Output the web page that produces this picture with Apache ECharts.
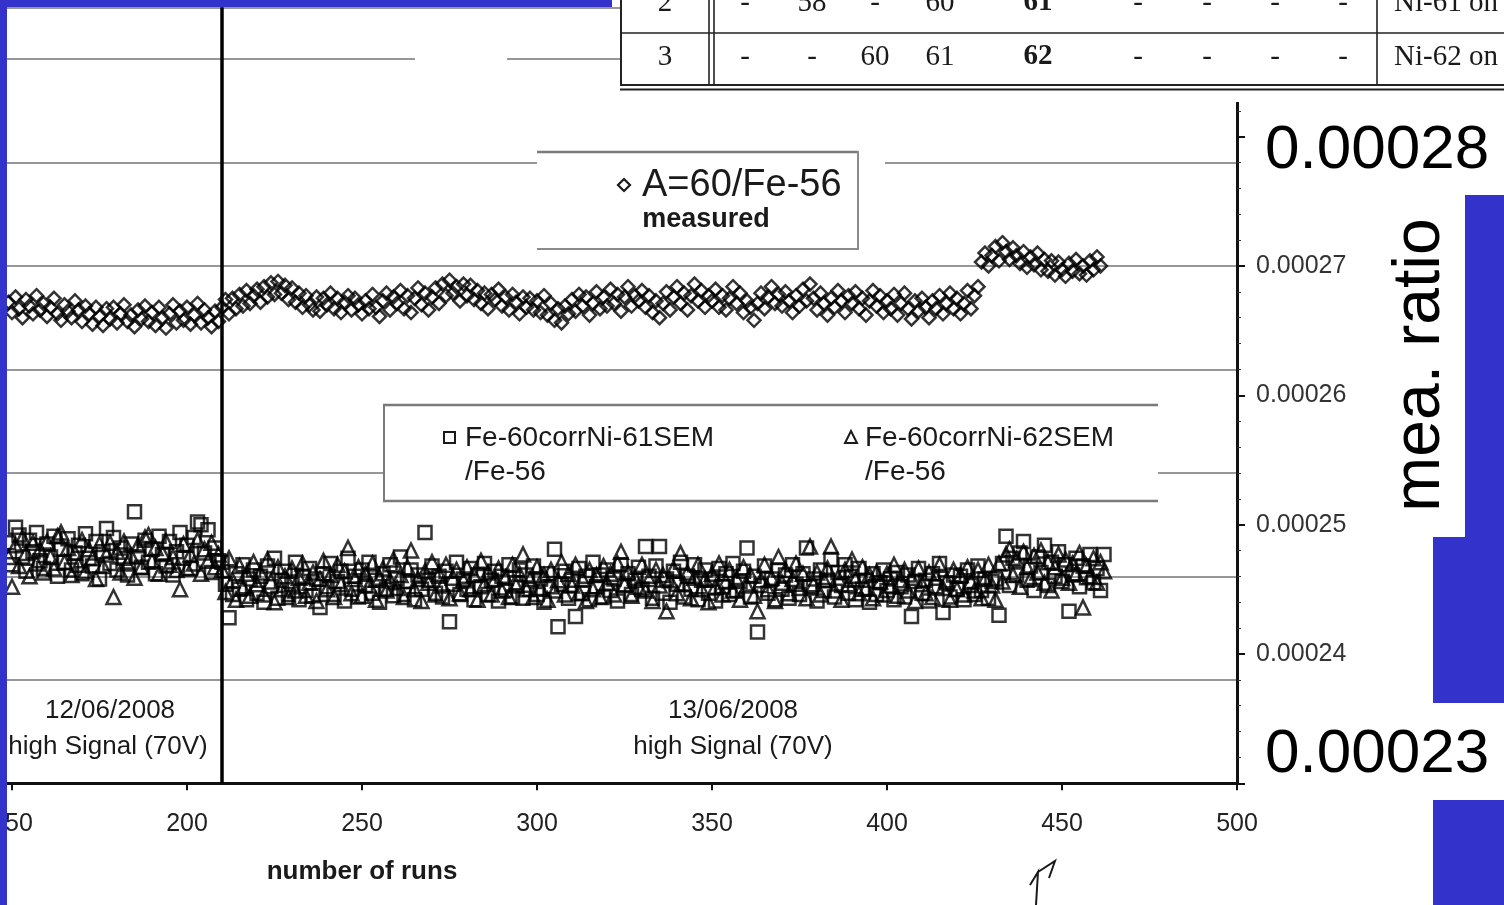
<!DOCTYPE html>
<html>
<head>
<meta charset="utf-8">
<script src="https://cdn.jsdelivr.net/npm/echarts@6/dist/echarts.min.js"></script>
<style>html,body{margin:0;padding:0;background:#fff;}#chart{width:1504px;height:905px;}</style>
</head>
<body>
<div id="chart"></div>
<script>
// ---------------- DATA ----------------
const firstRun = 149;          // first run number shown
const dividerRun = 210;        // change of day (12/06 -> 13/06)

// A=60/Fe-56 measured (runs 149..461)
const ratioA60 = [
2.672e-4,2.664e-4,2.676e-4,2.667e-4,2.660e-4,2.674e-4,2.669e-4,2.663e-4,2.677e-4,2.666e-4,
2.671e-4,2.661e-4,2.668e-4,2.675e-4,2.663e-4,2.658e-4,2.670e-4,2.665e-4,2.660e-4,2.673e-4,
2.666e-4,2.657e-4,2.669e-4,2.663e-4,2.655e-4,2.668e-4,2.661e-4,2.654e-4,2.667e-4,2.659e-4,
2.668e-4,2.656e-4,2.663e-4,2.670e-4,2.657e-4,2.662e-4,2.653e-4,2.666e-4,2.659e-4,2.669e-4,
2.657e-4,2.664e-4,2.654e-4,2.668e-4,2.660e-4,2.652e-4,2.663e-4,2.670e-4,2.656e-4,2.665e-4,
2.658e-4,2.668e-4,2.655e-4,2.662e-4,2.671e-4,2.656e-4,2.666e-4,2.660e-4,2.653e-4,2.665e-4,
2.657e-4,
2.668e-4,2.674e-4,2.663e-4,2.675e-4,2.667e-4,2.678e-4,2.669e-4,2.681e-4,2.671e-4,2.677e-4,
2.682e-4,2.672e-4,2.684e-4,2.676e-4,2.687e-4,2.678e-4,2.688e-4,2.679e-4,2.685e-4,2.674e-4,
2.683e-4,2.672e-4,2.679e-4,2.668e-4,2.677e-4,2.670e-4,2.666e-4,2.676e-4,2.665e-4,2.675e-4,
2.670e-4,2.679e-4,2.667e-4,2.675e-4,2.664e-4,2.672e-4,2.677e-4,2.666e-4,2.675e-4,2.670e-4,
2.663e-4,2.673e-4,2.667e-4,2.678e-4,2.668e-4,2.661e-4,2.673e-4,2.679e-4,2.666e-4,2.676e-4,
2.671e-4,2.681e-4,2.667e-4,2.677e-4,2.664e-4,2.675e-4,2.683e-4,2.670e-4,2.679e-4,2.666e-4,
2.676e-4,2.683e-4,2.671e-4,2.686e-4,2.677e-4,2.689e-4,2.679e-4,2.684e-4,2.673e-4,2.686e-4,
2.677e-4,2.685e-4,2.674e-4,2.681e-4,2.671e-4,2.679e-4,2.667e-4,2.678e-4,2.674e-4,2.682e-4,
2.669e-4,2.676e-4,2.666e-4,2.678e-4,2.672e-4,2.663e-4,2.676e-4,2.668e-4,2.675e-4,2.666e-4,
2.673e-4,2.664e-4,2.677e-4,2.662e-4,2.671e-4,2.658e-4,2.667e-4,2.656e-4,2.669e-4,2.663e-4,
2.674e-4,2.665e-4,2.678e-4,2.669e-4,2.676e-4,2.662e-4,2.671e-4,2.680e-4,2.667e-4,2.676e-4,
2.669e-4,2.682e-4,2.671e-4,2.678e-4,2.665e-4,2.676e-4,2.684e-4,2.669e-4,2.677e-4,2.673e-4,
2.681e-4,2.668e-4,2.677e-4,2.664e-4,2.673e-4,2.660e-4,2.671e-4,2.680e-4,2.666e-4,2.676e-4,
2.684e-4,2.671e-4,2.679e-4,2.666e-4,2.677e-4,2.686e-4,2.673e-4,2.681e-4,2.668e-4,2.677e-4,
2.673e-4,2.682e-4,2.668e-4,2.677e-4,2.666e-4,2.675e-4,2.684e-4,2.671e-4,2.679e-4,2.664e-4,
2.673e-4,2.668e-4,2.658e-4,2.671e-4,2.679e-4,2.667e-4,2.676e-4,2.684e-4,2.671e-4,2.678e-4,
2.669e-4,2.680e-4,2.673e-4,2.664e-4,2.677e-4,2.669e-4,2.682e-4,2.673e-4,2.686e-4,2.675e-4,
2.666e-4,2.679e-4,2.671e-4,2.662e-4,2.675e-4,2.668e-4,2.681e-4,2.673e-4,2.664e-4,2.677e-4,
2.671e-4,2.680e-4,2.667e-4,2.675e-4,2.662e-4,2.673e-4,2.681e-4,2.669e-4,2.677e-4,2.664e-4,
2.673e-4,2.667e-4,2.678e-4,2.662e-4,2.671e-4,2.679e-4,2.667e-4,2.659e-4,2.673e-4,2.665e-4,
2.675e-4,2.668e-4,2.660e-4,2.673e-4,2.667e-4,2.677e-4,2.663e-4,2.671e-4,2.679e-4,2.667e-4,
2.675e-4,2.663e-4,2.671e-4,2.681e-4,2.667e-4,2.677e-4,2.684e-4,
2.703e-4,2.710e-4,2.700e-4,2.708e-4,2.715e-4,2.704e-4,2.718e-4,2.711e-4,2.705e-4,2.714e-4,
2.708e-4,2.702e-4,2.711e-4,2.699e-4,2.707e-4,2.701e-4,2.710e-4,2.697e-4,2.705e-4,2.696e-4,
2.704e-4,2.693e-4,2.703e-4,2.697e-4,2.692e-4,2.702e-4,2.696e-4,2.705e-4,2.694e-4,2.700e-4,
2.693e-4,2.704e-4,2.697e-4,2.707e-4,2.700e-4
];

// Fe-60corrNi-61SEM/Fe-56 (runs 149..462)
const ratioNi61 = [
2.486e-4,2.469e-4,2.498e-4,2.492e-4,2.475e-4,2.464e-4,2.488e-4,2.479e-4,2.494e-4,2.472e-4,
2.466e-4,2.485e-4,2.475e-4,2.491e-4,2.460e-4,2.481e-4,2.471e-4,2.489e-4,2.465e-4,2.478e-4,
2.484e-4,2.462e-4,2.493e-4,2.474e-4,2.468e-4,2.487e-4,2.458e-4,2.479e-4,2.497e-4,2.470e-4,
2.490e-4,2.465e-4,2.482e-4,2.474e-4,2.461e-4,2.485e-4,2.510e-4,2.475e-4,2.467e-4,2.488e-4,
2.471e-4,2.481e-4,2.462e-4,2.491e-4,2.477e-4,2.468e-4,2.487e-4,2.461e-4,2.479e-4,2.494e-4,
2.474e-4,2.484e-4,2.466e-4,2.490e-4,2.502e-4,2.500e-4,2.478e-4,2.496e-4,2.463e-4,2.482e-4,
2.472e-4,
2.471e-4,2.454e-4,2.428e-4,2.446e-4,2.462e-4,2.450e-4,2.469e-4,2.442e-4,2.458e-4,2.465e-4,
2.447e-4,2.460e-4,2.440e-4,2.468e-4,2.452e-4,2.474e-4,2.443e-4,2.457e-4,2.464e-4,2.446e-4,
2.454e-4,2.471e-4,2.442e-4,2.460e-4,2.449e-4,2.466e-4,2.445e-4,2.458e-4,2.436e-4,2.462e-4,
2.452e-4,2.470e-4,2.446e-4,2.456e-4,2.464e-4,2.441e-4,2.474e-4,2.450e-4,2.460e-4,2.444e-4,
2.465e-4,2.453e-4,2.471e-4,2.447e-4,2.457e-4,2.440e-4,2.462e-4,2.450e-4,2.469e-4,2.445e-4,
2.458e-4,2.475e-4,2.446e-4,2.456e-4,2.465e-4,2.442e-4,2.461e-4,2.450e-4,2.494e-4,2.457e-4,
2.468e-4,2.447e-4,2.460e-4,2.444e-4,2.464e-4,2.425e-4,2.454e-4,2.471e-4,2.446e-4,2.458e-4,
2.450e-4,2.466e-4,2.442e-4,2.461e-4,2.452e-4,2.470e-4,2.446e-4,2.457e-4,2.464e-4,2.441e-4,
2.460e-4,2.449e-4,2.469e-4,2.444e-4,2.455e-4,2.465e-4,2.443e-4,2.461e-4,2.450e-4,2.468e-4,
2.446e-4,2.458e-4,2.440e-4,2.462e-4,2.452e-4,2.481e-4,2.421e-4,2.454e-4,2.464e-4,2.443e-4,
2.457e-4,2.429e-4,2.466e-4,2.447e-4,2.460e-4,2.442e-4,2.471e-4,2.452e-4,2.461e-4,2.444e-4,
2.465e-4,2.449e-4,2.458e-4,2.441e-4,2.469e-4,2.453e-4,2.462e-4,2.446e-4,2.457e-4,2.467e-4,
2.450e-4,2.483e-4,2.460e-4,2.443e-4,2.468e-4,2.483e-4,2.447e-4,2.458e-4,2.440e-4,2.464e-4,
2.454e-4,2.471e-4,2.444e-4,2.460e-4,2.450e-4,2.469e-4,2.442e-4,2.457e-4,2.465e-4,2.447e-4,
2.458e-4,2.441e-4,2.466e-4,2.452e-4,2.462e-4,2.446e-4,2.470e-4,2.449e-4,2.456e-4,2.464e-4,
2.482e-4,2.444e-4,2.460e-4,2.417e-4,2.453e-4,2.468e-4,2.447e-4,2.458e-4,2.442e-4,2.465e-4,
2.450e-4,2.461e-4,2.443e-4,2.469e-4,2.454e-4,2.446e-4,2.462e-4,2.482e-4,2.452e-4,2.458e-4,
2.441e-4,2.465e-4,2.449e-4,2.457e-4,2.473e-4,2.444e-4,2.463e-4,2.453e-4,2.469e-4,2.447e-4,
2.460e-4,2.442e-4,2.466e-4,2.450e-4,2.457e-4,2.440e-4,2.462e-4,2.446e-4,2.455e-4,2.465e-4,
2.449e-4,2.458e-4,2.442e-4,2.463e-4,2.452e-4,2.444e-4,2.461e-4,2.429e-4,2.456e-4,2.466e-4,
2.447e-4,2.457e-4,2.441e-4,2.462e-4,2.452e-4,2.470e-4,2.432e-4,2.455e-4,2.444e-4,2.461e-4,
2.450e-4,2.460e-4,2.442e-4,2.465e-4,2.453e-4,2.446e-4,2.468e-4,2.449e-4,2.458e-4,2.443e-4,
2.456e-4,
2.458e-4,2.430e-4,2.470e-4,2.491e-4,2.453e-4,2.474e-4,2.461e-4,2.478e-4,2.487e-4,2.457e-4,
2.468e-4,2.449e-4,2.475e-4,2.463e-4,2.484e-4,2.453e-4,2.471e-4,2.460e-4,2.479e-4,2.456e-4,
2.469e-4,2.433e-4,2.461e-4,2.474e-4,2.452e-4,2.468e-4,2.459e-4,2.477e-4,2.455e-4,2.466e-4,
2.449e-4,2.477e-4
];

// Fe-60corrNi-62SEM/Fe-56 (runs 149..462)
const ratioNi62 = [
2.475e-4,2.452e-4,2.484e-4,2.468e-4,2.490e-4,2.478e-4,2.460e-4,2.486e-4,2.470e-4,2.481e-4,
2.463e-4,2.487e-4,2.475e-4,2.466e-4,2.491e-4,2.494e-4,2.471e-4,2.482e-4,2.461e-4,2.478e-4,
2.469e-4,2.488e-4,2.464e-4,2.481e-4,2.474e-4,2.458e-4,2.485e-4,2.468e-4,2.477e-4,2.486e-4,
2.444e-4,2.479e-4,2.463e-4,2.487e-4,2.470e-4,2.476e-4,2.459e-4,2.484e-4,2.467e-4,2.490e-4,
2.492e-4,2.472e-4,2.482e-4,2.462e-4,2.478e-4,2.487e-4,2.469e-4,2.475e-4,2.465e-4,2.450e-4,
2.485e-4,2.466e-4,2.477e-4,2.470e-4,2.488e-4,2.462e-4,2.481e-4,2.472e-4,2.486e-4,2.467e-4,
2.477e-4,
2.465e-4,2.448e-4,2.474e-4,2.457e-4,2.442e-4,2.468e-4,2.451e-4,2.462e-4,2.445e-4,2.471e-4,
2.454e-4,2.463e-4,2.446e-4,2.473e-4,2.456e-4,2.440e-4,2.467e-4,2.450e-4,2.460e-4,2.444e-4,
2.466e-4,2.449e-4,2.459e-4,2.470e-4,2.445e-4,2.455e-4,2.463e-4,2.441e-4,2.458e-4,2.472e-4,
2.450e-4,2.461e-4,2.444e-4,2.469e-4,2.454e-4,2.464e-4,2.482e-4,2.447e-4,2.458e-4,2.467e-4,
2.445e-4,2.462e-4,2.453e-4,2.470e-4,2.442e-4,2.459e-4,2.466e-4,2.449e-4,2.457e-4,2.473e-4,
2.451e-4,2.461e-4,2.444e-4,2.467e-4,2.480e-4,2.450e-4,2.458e-4,2.441e-4,2.464e-4,2.455e-4,
2.471e-4,2.446e-4,2.462e-4,2.453e-4,2.469e-4,2.443e-4,2.459e-4,2.465e-4,2.447e-4,2.457e-4,
2.467e-4,2.450e-4,2.461e-4,2.442e-4,2.472e-4,2.454e-4,2.463e-4,2.446e-4,2.458e-4,2.466e-4,
2.449e-4,2.459e-4,2.444e-4,2.469e-4,2.453e-4,2.462e-4,2.477e-4,2.450e-4,2.458e-4,2.444e-4,
2.467e-4,2.451e-4,2.461e-4,2.442e-4,2.465e-4,2.449e-4,2.457e-4,2.471e-4,2.446e-4,2.462e-4,
2.453e-4,2.469e-4,2.447e-4,2.458e-4,2.441e-4,2.465e-4,2.450e-4,2.461e-4,2.444e-4,2.468e-4,
2.455e-4,2.462e-4,2.446e-4,2.470e-4,2.479e-4,2.454e-4,2.463e-4,2.445e-4,2.459e-4,2.452e-4,
2.469e-4,2.449e-4,2.458e-4,2.441e-4,2.465e-4,2.453e-4,2.461e-4,2.433e-4,2.457e-4,2.466e-4,
2.447e-4,2.478e-4,2.454e-4,2.463e-4,2.443e-4,2.459e-4,2.469e-4,2.450e-4,2.458e-4,2.440e-4,
2.462e-4,2.452e-4,2.470e-4,2.446e-4,2.456e-4,2.465e-4,2.449e-4,2.458e-4,2.442e-4,2.467e-4,
2.453e-4,2.461e-4,2.445e-4,2.433e-4,2.457e-4,2.469e-4,2.450e-4,2.459e-4,2.441e-4,2.475e-4,
2.455e-4,2.465e-4,2.447e-4,2.458e-4,2.470e-4,2.451e-4,2.462e-4,2.443e-4,2.483e-4,2.454e-4,
2.463e-4,2.446e-4,2.457e-4,2.466e-4,2.483e-4,2.449e-4,2.459e-4,2.442e-4,2.465e-4,2.454e-4,
2.473e-4,2.458e-4,2.447e-4,2.467e-4,2.451e-4,2.461e-4,2.443e-4,2.463e-4,2.456e-4,2.446e-4,
2.462e-4,2.453e-4,2.469e-4,2.445e-4,2.457e-4,2.465e-4,2.449e-4,2.459e-4,2.441e-4,2.466e-4,
2.454e-4,2.447e-4,2.463e-4,2.444e-4,2.459e-4,2.469e-4,2.451e-4,2.457e-4,2.442e-4,2.465e-4,
2.450e-4,2.461e-4,2.446e-4,2.467e-4,2.456e-4,2.449e-4,2.465e-4,2.443e-4,2.458e-4,2.469e-4,
2.453e-4,
2.442e-4,2.470e-4,2.456e-4,2.477e-4,2.481e-4,2.461e-4,2.473e-4,2.452e-4,2.479e-4,2.467e-4,
2.458e-4,2.476e-4,2.463e-4,2.480e-4,2.455e-4,2.471e-4,2.449e-4,2.467e-4,2.477e-4,2.459e-4,
2.473e-4,2.455e-4,2.470e-4,2.462e-4,2.478e-4,2.436e-4,2.468e-4,2.460e-4,2.474e-4,2.455e-4,
2.471e-4,2.464e-4
];

const seriesNames = ['A=60/Fe-56 measured', 'Fe-60corrNi-61SEM/Fe-56', 'Fe-60corrNi-62SEM/Fe-56'];
const xAxisTitle = 'number of runs';
const yAxisTitle = 'mea. ratio';
const bigYLabels = ['0.00028', '0.00023'];
const dayNotes = [['12/06/2008', 'high Signal (70V)'], ['13/06/2008', 'high Signal (70V)']];
const tableRows = [
  ['2', '-', '58', '-', '60', '61', '-', '-', '-', '-', 'Ni-61 on'],
  ['3', '-', '-', '60', '61', '62', '-', '-', '-', '-', 'Ni-62 on']
];

// --------------- CHART ----------------
const toPoints = arr => arr.map((v, i) => [firstRun + i, v]);
const BLUE = '#3333cc';
const INK = '#1a1a1a';
const SANS = '"Liberation Sans", Arial, sans-serif';
const SERIF = '"Liberation Serif", "DejaVu Serif", serif';

const chart = echarts.init(document.getElementById('chart'), null, {renderer: 'canvas'});

const g = [];
const Z = 100;
function rect(x, y, w, h, fill) { g.push({type: 'rect', z: Z, shape: {x, y, width: w, height: h}, style: {fill}}); }
function line(x1, y1, x2, y2, stroke, w) { g.push({type: 'line', z: Z + 1, shape: {x1, y1, x2, y2}, style: {stroke, lineWidth: w}}); }
function text(t, x, y, font, align, fill) {
  g.push({type: 'text', z: Z + 2, x, y, style: {text: t, font, fill: fill || INK, textAlign: align || 'left', textVerticalAlign: 'middle'}});
}

// gap in top gridline
rect(415, 54, 92, 12, '#fff');

// legend box 1
rect(537, 150, 348, 103, '#fff');
line(537, 152, 858, 152, '#7a7a7a', 2.5);
line(858, 151, 858, 250, '#8a8a8a', 2);
line(537, 249, 858, 249, '#8a8a8a', 2);
g.push({type: 'polygon', z: Z + 2, shape: {points: [[624, 179], [630, 185], [624, 191], [618, 185]]}, style: {fill: 'none', stroke: INK, lineWidth: 2.2}});
text('A=60/Fe-56', 642, 186, '38px ' + SANS, 'left');
text('measured', 706, 220, 'bold 27px ' + SANS, 'center');

// legend box 2
rect(383, 404, 775, 99, '#fff');
line(383, 405, 1158, 405, '#7a7a7a', 2.5);
line(384, 405, 384, 502, '#7a7a7a', 2);
line(383, 501, 1158, 501, '#7a7a7a', 2.5);
g.push({type: 'rect', z: Z + 2, shape: {x: 444, y: 432, width: 11, height: 11}, style: {fill: 'none', stroke: INK, lineWidth: 2}});
text('Fe-60corrNi-61SEM', 465, 438, '28px ' + SANS, 'left');
text('/Fe-56', 465, 472, '28px ' + SANS, 'left');
g.push({type: 'polygon', z: Z + 2, shape: {points: [[851, 431], [857, 443], [845, 443]]}, style: {fill: 'none', stroke: INK, lineWidth: 2}});
text('Fe-60corrNi-62SEM', 865, 438, '28px ' + SANS, 'left');
text('/Fe-56', 865, 472, '28px ' + SANS, 'left');

// day notes
text(dayNotes[0][0], 110, 711, '26px ' + SANS, 'center');
text(dayNotes[0][1], 108, 747, '26px ' + SANS, 'center');
text(dayNotes[1][0], 733, 711, '26px ' + SANS, 'center');
text(dayNotes[1][1], 733, 747, '26px ' + SANS, 'center');

// x axis title
text(xAxisTitle, 362, 872, 'bold 26px ' + SANS, 'center');

// scribble
g.push({type: 'polyline', z: Z + 1, shape: {points: [[1036, 905], [1038, 872], [1030, 885]]}, style: {stroke: INK, lineWidth: 2, fill: 'none'}});
g.push({type: 'polyline', z: Z + 1, shape: {points: [[1038, 872], [1055, 861], [1049, 878]]}, style: {stroke: INK, lineWidth: 2, fill: 'none'}});

// table
rect(620, 0, 884, 91, '#fff');
rect(1226, 90, 24, 12, '#fff');
line(621, 0, 621, 86, '#222', 2);
line(709, 0, 709, 86, '#222', 1.6);
line(714, 0, 714, 86, '#222', 1.6);
line(1377, 0, 1377, 86, '#222', 1.6);
line(621, 33, 1504, 33, '#222', 1.6);
line(620, 85, 1504, 85, '#222', 1.8);
line(620, 89.5, 1504, 89.5, '#222', 1.8);
const colX = [665, 745, 812, 875, 940, 1038, 1138, 1207, 1275, 1343, 1394];
const rowY = [3, 57];
tableRows.forEach((row, r) => {
  row.forEach((cell, c) => {
    const last = c === row.length - 1;
    text(cell, colX[c], rowY[r], (c === 5 ? 'bold ' : '') + '29px ' + SERIF, last ? 'left' : 'center');
  });
});

// slide decorations (blue)
rect(0, 0, 612, 7, BLUE);
rect(0, 0, 7, 905, BLUE);
rect(1465, 195, 39, 342, BLUE);
rect(1433, 537, 71, 166, BLUE);
rect(1433, 800, 71, 105, BLUE);

// big labels on the right
text(bigYLabels[0], 1265, 151, '62px ' + SANS, 'left', '#000');
text(bigYLabels[1], 1265, 755, '62px ' + SANS, 'left', '#000');
g.push({type: 'text', z: Z + 2, x: 1421, y: 365, rotation: Math.PI / 2,
  style: {text: yAxisTitle, font: '66px ' + SANS, fill: '#000', textAlign: 'center', textVerticalAlign: 'middle'}});

const hollow = {color: 'rgba(0,0,0,0)', borderColor: '#000', borderWidth: 2.5};

chart.setOption({
  animation: false,
  backgroundColor: '#fff',
  grid: {left: -163, right: 267, top: 7.3, bottom: 121.7, containLabel: false, outerBoundsMode: 'none'},
  xAxis: {
    type: 'value', min: 100, max: 500, interval: 50,
    axisLine: {show: true, onZero: false, lineStyle: {color: '#111', width: 3}},
    axisTick: {show: true, length: 7, lineStyle: {color: '#111', width: 2}},
    axisLabel: {color: '#222', fontSize: 25, fontFamily: 'Liberation Sans', margin: 28},
    splitLine: {show: false}
  },
  yAxis: [
    {
      type: 'value', position: 'right', min: 0.00023, max: 0.00029, interval: 0.00001,
      axisLine: {show: true, onZero: false, lineStyle: {color: '#111', width: 3}},
      axisTick: {show: true, length: 8, lineStyle: {color: '#111', width: 2}},
      minorTick: {show: true, splitNumber: 5, length: 4, lineStyle: {color: '#333', width: 1}},
      axisLabel: {
        color: '#333', fontSize: 25, fontFamily: 'Liberation Sans', margin: 19,
        formatter: v => { const r = Math.round(v * 1e5); return (r >= 24 && r <= 27) ? (r / 1e5).toFixed(5) : ''; }
      },
      splitLine: {show: false}
    },
    {
      // horizontal gridlines of the original sheet (every 0.000008)
      type: 'value', position: 'left', min: 0, max: 7.5, interval: 1,
      axisLine: {show: false}, axisTick: {show: false}, axisLabel: {show: false},
      splitLine: {show: true, lineStyle: {color: '#757575', width: 1.6}}
    }
  ],
  series: [
    {
      name: seriesNames[0], type: 'scatter', yAxisIndex: 0, symbol: 'diamond', symbolSize: 13,
      itemStyle: hollow, data: toPoints(ratioA60), z: 3,
      markLine: {
        silent: true, symbol: 'none', label: {show: false},
        lineStyle: {color: '#000', width: 3.5, type: 'solid'},
        data: [{xAxis: dividerRun}]
      }
    },
    {
      name: seriesNames[1], type: 'scatter', yAxisIndex: 0, symbol: 'rect', symbolSize: 13,
      itemStyle: hollow, data: toPoints(ratioNi61), z: 3
    },
    {
      name: seriesNames[2], type: 'scatter', yAxisIndex: 0, symbol: 'triangle', symbolSize: 14,
      itemStyle: hollow, data: toPoints(ratioNi62), z: 3
    }
  ],
  graphic: {elements: g}
});
</script>
</body>
</html>
